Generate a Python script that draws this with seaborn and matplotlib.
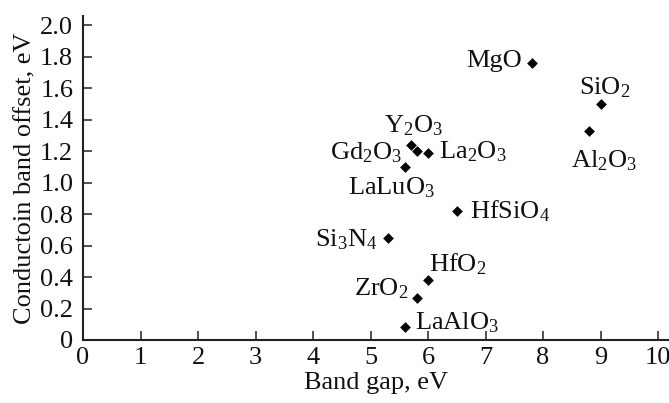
import matplotlib
matplotlib.use("Agg")
import matplotlib.pyplot as plt
import seaborn as sns
import pandas as pd

materials = ["MgO", "SiO$_2$", "Al$_2$O$_3$", "Y$_2$O$_3$", "Gd$_2$O$_3$", "La$_2$O$_3$",
             "LaLuO$_3$", "HfSiO$_4$", "Si$_3$N$_4$", "HfO$_2$", "ZrO$_2$", "LaAlO$_3$"]
band_gap = [7.8, 9.0, 8.8, 5.7, 5.8, 6.0, 5.6, 6.5, 5.3, 6.0, 5.8, 5.6]
cb_offset = [1.76, 1.50, 1.33, 1.24, 1.20, 1.19, 1.10, 0.82, 0.65, 0.38, 0.27, 0.08]
x_ticks = [0, 1, 2, 3, 4, 5, 6, 7, 8, 9, 10]
y_ticks = [0, 0.2, 0.4, 0.6, 0.8, 1.0, 1.2, 1.4, 1.6, 1.8, 2.0]
y_tick_labels = ["0", "0.2", "0.4", "0.6", "0.8", "1.0", "1.2", "1.4", "1.6", "1.8", "2.0"]

# label placement (pixel offsets from the point, horizontal alignment)
label_offsets = {
    "MgO": (-10, -4, "right"),
    "SiO$_2$": (4, 10, "center"),
    "Al$_2$O$_3$": (15, -37, "center"),
    "Y$_2$O$_3$": (3, 13, "center"),
    "Gd$_2$O$_3$": (-15, -8, "right"),
    "La$_2$O$_3$": (11, -6, "left"),
    "LaLuO$_3$": (-14, -27, "center"),
    "HfSiO$_4$": (13, -7, "left"),
    "Si$_3$N$_4$": (-10, -9, "right"),
    "HfO$_2$": (1, 9, "left"),
    "ZrO$_2$": (-8, 2, "right"),
    "LaAlO$_3$": (10, -2, "left"),
}

FS = 19

sns.set_style("ticks")
plt.rcParams["font.family"] = ["Liberation Serif", "DejaVu Serif"]
plt.rcParams["mathtext.fontset"] = "custom"
plt.rcParams["mathtext.rm"] = "Liberation Serif"
plt.rcParams["mathtext.it"] = "Liberation Serif:italic"
plt.rcParams["mathtext.bf"] = "Liberation Serif:bold"

df = pd.DataFrame({"material": materials, "band_gap": band_gap, "cb_offset": cb_offset})

fig = plt.figure(figsize=(6.69, 4.03), dpi=100)
ax = fig.add_axes([83 / 669, 63 / 403, 1 - 83 / 669, (340 - 16) / 403])

sns.scatterplot(data=df, x="band_gap", y="cb_offset", marker="D", s=30,
                color="black", edgecolor="black", linewidth=0, ax=ax, zorder=3)

for m, xv, yv in zip(materials, band_gap, cb_offset):
    dx, dy, ha = label_offsets[m]
    ax.annotate(m, (xv, yv), xytext=(dx, dy), textcoords="offset pixels",
                ha=ha, va="baseline", fontsize=FS, color="#111111")

ax.set_xlim(0, 10.19)
ax.set_ylim(0, 2.06)
ax.set_xticks(x_ticks)
ax.set_xticklabels([str(t) for t in x_ticks])
ax.set_yticks(y_ticks)
ax.set_yticklabels(y_tick_labels)

for side in ["top", "right"]:
    ax.spines[side].set_visible(False)
for side in ["left", "bottom"]:
    ax.spines[side].set_linewidth(1.5)
    ax.spines[side].set_color("#222222")

ax.tick_params(axis="both", direction="in", length=6.5, width=1.1, color="#222222",
               labelsize=FS, labelcolor="#111111")
ax.tick_params(axis="y", pad=7)
ax.tick_params(axis="x", pad=5)

ax.set_xlabel("Band gap, eV", fontsize=FS, color="#111111", labelpad=2)
ax.set_ylabel("Conductoin band offset, eV", fontsize=FS, color="#111111", labelpad=3)

fig.savefig("out.png", dpi=100)
